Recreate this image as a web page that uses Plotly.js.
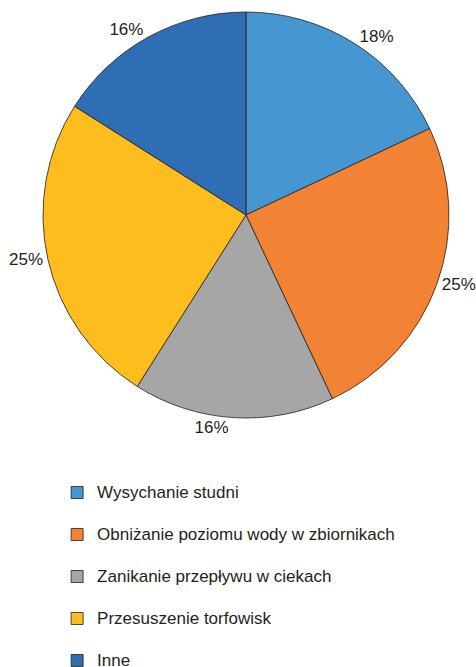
<!DOCTYPE html>
<html>
<head>
<meta charset="utf-8">
<script src="https://cdn.plot.ly/plotly-3.0.1.min.js"></script>
<style>
  html, body { margin: 0; padding: 0; background: #fff; }
  #chart { width: 476px; height: 667px; }
</style>
</head>
<body>
<div id="chart"></div>
<script>
"use strict";

// DATA
const labels = [
  "Wysychanie studni",
  "Obniżanie poziomu wody w zbiornikach",
  "Zanikanie przepływu w ciekach",
  "Przesuszenie torfowisk",
  "Inne"
];
const shares = [18, 25, 16, 25, 16];
const colors = ["#4596d1", "#f28234", "#a6a6a6", "#fdbd1e", "#2f6db5"];

const TEXT = "#231f20";
const FONT = "Arial, 'Liberation Sans', sans-serif";

// legend rows are spaced wide in the original, so each entry but the last gets an empty second line
const legendLabels = labels.map((l, i) =>
  "<span style='font-size:17px'>" + l + "</span>" + (i < labels.length - 1 ? "<br> " : ""));

const trace = {
  type: "pie",
  labels: legendLabels,
  values: shares,
  sort: false,
  direction: "clockwise",
  rotation: 0,
  marker: {colors: colors, line: {color: TEXT, width: 0.8}},
  texttemplate: "%{value}%",
  textposition: "outside",
  outsidetextfont: {family: FONT, size: 17, color: TEXT},
  hoverinfo: "skip",
  domain: {x: [0.0903, 0.9433], y: [0.3733, 0.982]}
};

const layout = {
  width: 476,
  height: 667,
  margin: {l: 0, r: 0, t: 0, b: 0, autoexpand: false},
  paper_bgcolor: "#fff",
  font: {family: FONT, color: TEXT},
  showlegend: true,
  legend: {
    x: 0.12, xanchor: "left",
    y: 0.286, yanchor: "top",
    font: {family: FONT, size: 15, color: TEXT},
    valign: "top",
    bgcolor: "rgba(0,0,0,0)"
  }
};

Plotly.newPlot("chart", [trace], layout, {staticPlot: true, displayModeBar: false});
</script>
</body>
</html>
